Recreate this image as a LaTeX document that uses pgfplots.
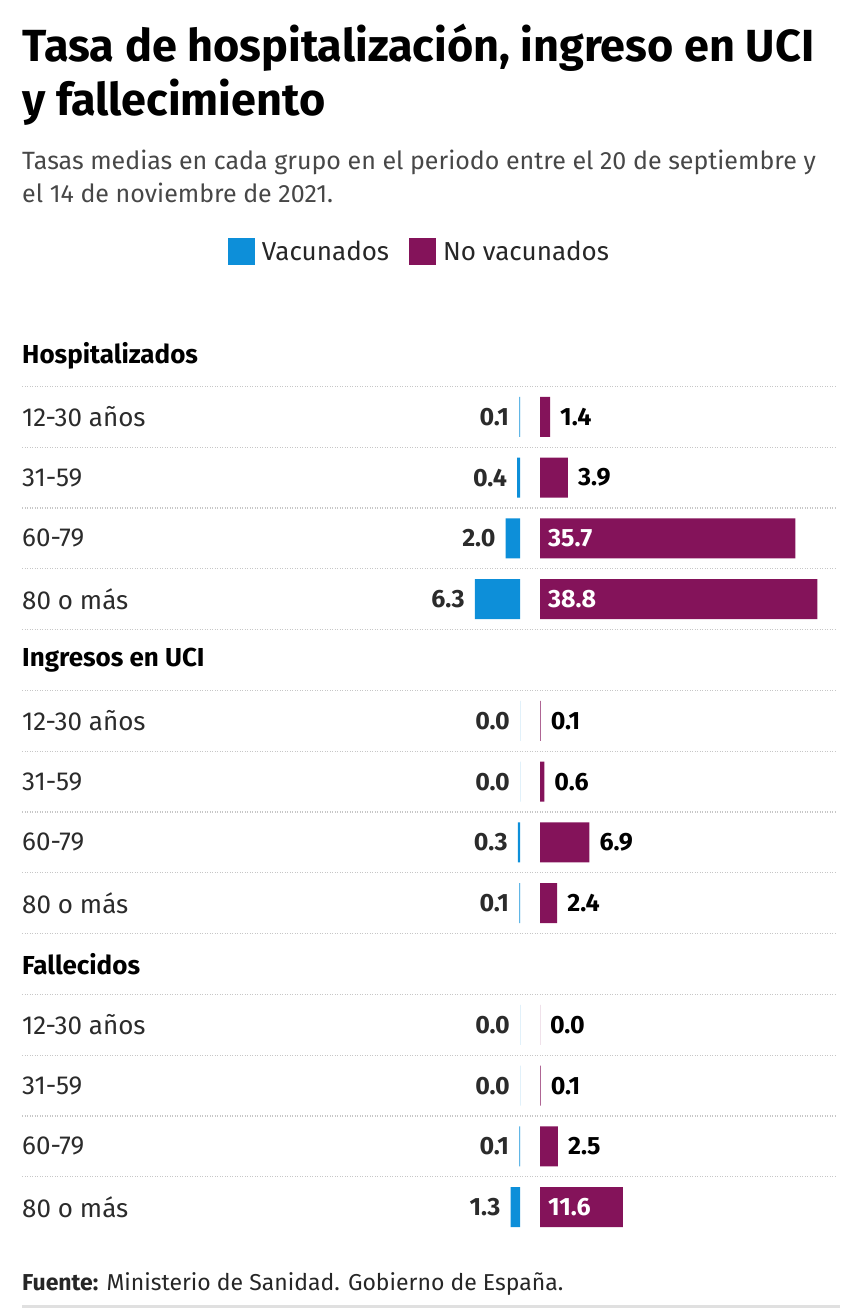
\documentclass[border=0pt]{standalone}
\usepackage{pgfplots}
\pgfplotsset{compat=1.18}
\usepackage{fontspec}
\setmainfont{Fira Sans}
\definecolor{vac}{HTML}{0D8FD9}
\definecolor{nov}{HTML}{84135A}
\definecolor{txt}{HTML}{2B2B2B}
\pgfplotsset{sq legend/.style={legend image code/.code={\fill[##1] (0pt,-13.5pt) rectangle (27pt,13.5pt);}}}
\newcommand\valfmt{\pgfmathprintnumber[fixed,fixed zerofill,precision=1]{\pgfplotspointmeta}}
\begin{document}
\begin{tikzpicture}[x=1pt,y=-1pt]
\useasboundingbox (0,0) rectangle (840,1308);
% titles
\node[anchor=base west, inner sep=0pt, font=\fontsize{45}{48}\selectfont\bfseries, text=black] at (22,62) {Tasa de hospitalización, ingreso en UCI};
\node[anchor=base west, inner sep=0pt, font=\fontsize{45}{48}\selectfont\bfseries, text=black] at (22,116) {y fallecimiento};
\node[anchor=base west, inner sep=0pt, font=\fontsize{25}{28}\selectfont, text=black!72] at (22,170) {Tasas medias en cada grupo en el periodo entre el 20 de septiembre y};
\node[anchor=base west, inner sep=0pt, font=\fontsize{25}{28}\selectfont, text=black!72] at (22,203) {el 14 de noviembre de 2021.};
\node[anchor=base west, inner sep=0pt, font=\fontsize{23}{26}\selectfont, text=black!85] at (22,1290) {\textbf{Fuente:} Ministerio de Sanidad. Gobierno de España.};
\fill[black!12] (22,1305) rectangle (840,1308);
\coordinate (bgA) at (22,325.6);
\coordinate (lA) at (520,325.6);
\coordinate (rA) at (540,325.6);

% row labels and dotted separators
\begin{axis}[at={(bgA)}, anchor=north west, scale only axis, width=813pt, height=912pt,
  xmin=0, xmax=1, ymin=-0.5, ymax=14.5, y dir=reverse,
  axis line style={draw=none}, xtick=\empty,
  ytick={0,...,14},
  yticklabels={\textbf{\color{black}Hospitalizados},12-30 años,31-59,60-79,80 o más,
    \textbf{\color{black}Ingresos en UCI},12-30 años,31-59,60-79,80 o más,
    \textbf{\color{black}Fallecidos},12-30 años,31-59,60-79,80 o más},
  minor ytick={0.5,1.5,...,13.5}, yminorgrids,
  minor grid style={black!22, line width=1.2pt, dash pattern=on 1.2pt off 1.3pt},
  major tick length=0pt, minor tick length=0pt,
  yticklabel style={anchor=west, inner sep=0pt, font=\fontsize{26}{28}\selectfont, text=txt},
]
\addplot[draw=none] coordinates {(0,0)};
\end{axis}

% vacunados
\begin{axis}[at={(lA)}, anchor=north east, scale only axis, width=214.5pt, height=912pt,
  xmin=0, xmax=30, x dir=reverse, ymin=-0.5, ymax=14.5, y dir=reverse,
  hide axis, clip=false, xbar, bar width=40pt, bar shift=0pt,
  /pgf/number format/assume math mode=true,
  nodes near coords=\valfmt,
  every node near coord/.append style={anchor=east, xshift=-10pt, inner sep=0pt,
    font=\fontsize{25}{28}\selectfont\bfseries, text=txt},
]
\addplot[fill=vac, draw=none] coordinates {(0.1,1) (0.4,2) (2.0,3) (6.3,4) (0.0,6) (0.0,7) (0.3,8) (0.1,9) (0.0,11) (0.0,12) (0.1,13) (1.3,14)};
\end{axis}

% no vacunados
\begin{axis}[at={(rA)}, anchor=north west, scale only axis, width=286pt, height=912pt,
  xmin=0, xmax=40, ymin=-0.5, ymax=14.5, y dir=reverse,
  hide axis, clip=false, xbar, bar width=40pt, bar shift=0pt,
  /pgf/number format/assume math mode=true,
  legend columns=2,
  legend style={at={(-0.4248,1.0813)}, anchor=center, draw=none, fill=none, inner sep=0pt,
    font=\fontsize{26}{28}\selectfont, text=black!85, nodes={inner sep=0pt},
    /tikz/every odd column/.append style={column sep=7pt},
    /tikz/every even column/.append style={column sep=20pt}},
]
\addlegendimage{sq legend, fill=vac, draw=none}
\addlegendentry{Vacunados}
\addplot[sq legend, fill=nov, draw=none, nodes near coords=\valfmt,
  every node near coord/.append style={anchor=west, xshift=10pt, inner sep=0pt,
    font=\fontsize{25}{28}\selectfont\bfseries, text=black}]
  coordinates {(1.4,1) (3.9,2) (0.1,6) (0.6,7) (6.9,8) (2.4,9) (0.0,11) (0.1,12) (2.5,13)};
\addlegendentry{No vacunados}
\addplot[fill=nov, draw=none, forget plot] coordinates {(35.7,3) (38.8,4) (11.6,14)};
\addplot[draw=none, fill=none, forget plot, point meta=explicit, nodes near coords=\valfmt,
  every node near coord/.append style={anchor=west, xshift=8pt, inner sep=0pt,
    font=\fontsize{25}{28}\selectfont\bfseries, text=white}]
  coordinates {(0,3) [35.7] (0,4) [38.8] (0,14) [11.6]};
\end{axis}
\end{tikzpicture}
\end{document}
